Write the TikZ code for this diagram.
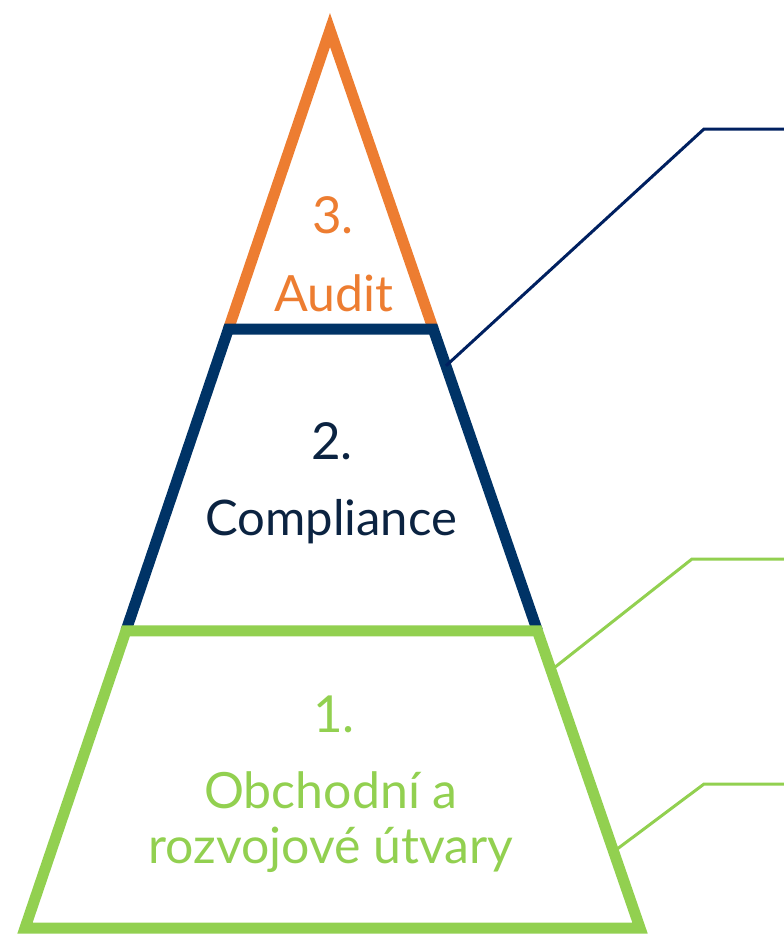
\documentclass[tikz,border=0pt]{standalone}
\usepackage{fontspec}
\setmainfont{Lato}
\usepackage{tikz}
\usetikzlibrary{calc}

\definecolor{auditorange}{HTML}{ED7D31}
\definecolor{compnavy}{HTML}{003366}
\definecolor{leadnavy}{HTML}{002060}
\definecolor{textnavy}{HTML}{0B2341}
\definecolor{bizgreen}{HTML}{92D050}

\begin{document}
\begin{tikzpicture}[x=1pt,y=-1pt,
  level/.style={line width=11pt},
  leader/.style={line width=3pt},
  num/.style={anchor=base,inner sep=0pt,font=\fontsize{51}{51}\selectfont},
  lbl/.style={anchor=base,inner sep=0pt}]
\useasboundingbox (0,0) rectangle (784,934);
% pyramid corners
\coordinate (apex) at (330,30);
\coordinate (bl) at (25,928);
\coordinate (br) at (640,928);
\coordinate (l3) at ($(apex)!0.333!(bl)$);
\coordinate (r3) at ($(apex)!0.333!(br)$);
\coordinate (l2) at ($(apex)!0.669!(bl)$);
\coordinate (r2) at ($(apex)!0.669!(br)$);
% levels
\draw [level,auditorange] (l3) -- (apex) -- (r3);
\draw [level,compnavy] (l2) -- (l3) -- (r3) -- (r2);
\draw [level,bizgreen] (l2) -- (r2) -- (br) -- (bl) -- cycle;
% leaders
\coordinate (s2) at ($(apex)!0.374!(br)$);
\coordinate (k2) at (704,129);
\coordinate (e2) at (784,129);
\coordinate (s1a) at ($(apex)!0.713!(br)$);
\coordinate (k1a) at (692,559);
\coordinate (e1a) at (784,559);
\coordinate (s1b) at ($(apex)!0.915!(br)$);
\coordinate (k1b) at (704,784);
\coordinate (e1b) at (784,784);
\draw [leader,leadnavy] (s2) -- (k2) -- (e2);
\draw [leader,bizgreen] (s1a) -- (k1a) -- (e1a);
\draw [leader,bizgreen] (s1b) -- (k1b) -- (e1b);
% texts
\node [num,text=auditorange] (n3) at (333,233) {3.};
\node [lbl,text=auditorange,font=\fontsize{50}{50}\selectfont] (t3) at (334,311) {Audit};
\node [num,text=textnavy] (n2) at (332,459) {2.};
\node [lbl,text=textnavy,font=\fontsize{49}{49}\selectfont] (t2) at (331,535) {Compliance};
\node [num,text=bizgreen] (n1) at (334,732) {1.};
\node [lbl,text=bizgreen,font=\fontsize{50}{50}\selectfont] (t1) at (331,808) {Obchodní a};
\node [lbl,text=bizgreen,font=\fontsize{50}{50}\selectfont] (t1b) at (331,863) {rozvojové útvary};
\end{tikzpicture}
\end{document}
